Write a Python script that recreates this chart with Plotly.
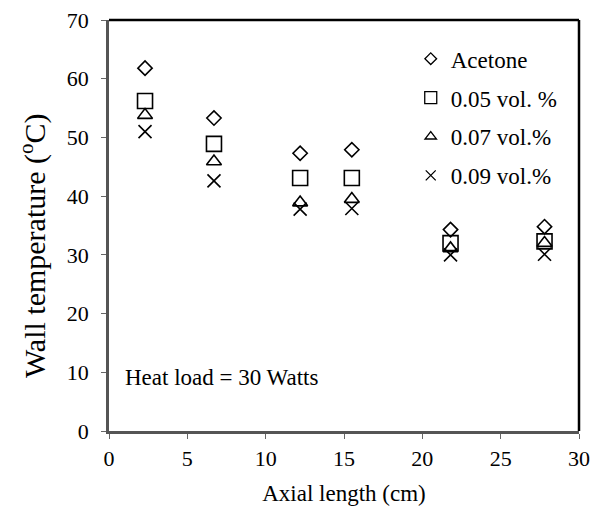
import plotly.graph_objects as go

# Axial positions of the thermocouples (cm)
axial_cm = [2.3, 6.7, 12.2, 15.5, 21.8, 27.8]

# Wall temperatures (deg C) for each working fluid
acetone = [61.8, 53.3, 47.3, 47.9, 34.3, 34.8]
vol_005 = [56.2, 48.9, 43.1, 43.1, 32.0, 32.3]
vol_007 = [53.8, 45.9, 38.9, 39.5, 31.1, 32.0]
vol_009 = [51.0, 42.6, 37.8, 37.9, 30.0, 30.1]

# name, values, symbol, plot marker size, legend marker size
series = [
    ("Acetone", acetone, "diamond-open", 11, 9),
    ("0.05 vol. %", vol_005, "square-open", 15, 12),
    ("0.07 vol.%", vol_007, "triangle-up-open", 13, 10),
    ("0.09 vol.%", vol_009, "x-thin-open", 13, 10),
]

FONT = "'Times New Roman', 'Liberation Serif', Tinos, 'DejaVu Serif', serif"

fig = go.Figure()
for i, (name, vals, sym, size, lsize) in enumerate(series):
    fig.add_trace(go.Scatter(
        x=axial_cm, y=vals, mode="markers", name=name,
        legendgroup=f"g{i}", showlegend=False,
        marker=dict(symbol=sym, size=size, color="black",
                    line=dict(color="black", width=1.6)),
    ))
    # compact legend key for the same series
    fig.add_trace(go.Scatter(
        x=[None], y=[None], mode="markers", name=name,
        legendgroup=f"g{i}", showlegend=True,
        marker=dict(symbol=sym, size=lsize, color="black",
                    line=dict(color="black", width=1.3)),
    ))

fig.add_annotation(
    x=0.03, y=0.131, xref="paper", yref="paper", xanchor="left", yanchor="middle",
    text="Heat load = 30 Watts", showarrow=False,
    font=dict(family=FONT, size=23, color="black"),
)

# y-axis title placed beside the axis
fig.add_annotation(
    x=-0.162, y=0.452, xref="paper", yref="paper", xanchor="center", yanchor="middle",
    text="Wall temperature (<sup>o</sup>C)", textangle=-90, showarrow=False,
    font=dict(family=FONT, size=30, color="black"),
)

# black frame on the top and right sides
fig.add_shape(type="line", xref="paper", yref="paper", x0=0, x1=1, y0=1, y1=1,
              line=dict(color="black", width=2.5))
fig.add_shape(type="line", xref="paper", yref="paper", x0=1, x1=1, y0=0, y1=1,
              line=dict(color="black", width=2.5))

axis_common = dict(
    showgrid=False, zeroline=False, showline=True, linecolor="#555555",
    linewidth=2.5, mirror=False, ticks="outside", ticklen=5, tickwidth=1,
    tickcolor="#666666", tickfont=dict(family=FONT, size=22, color="black"),
    automargin=False,
)

fig.update_layout(
    width=595, height=509,
    margin=dict(l=109, r=16, t=20, b=78),
    plot_bgcolor="white", paper_bgcolor="white",
    font=dict(family=FONT, color="black"),
    showlegend=True,
    legend=dict(
        x=0.642, y=0.958, xanchor="left", yanchor="top",
        font=dict(family=FONT, size=23, color="black"),
        bgcolor="rgba(0,0,0,0)", traceorder="grouped", tracegroupgap=6,
        itemwidth=30, itemsizing="trace",
    ),
    xaxis=dict(range=[0, 30], dtick=5, ticklabelstandoff=1,
               title=dict(text="Axial length (cm)", standoff=15,
                          font=dict(family=FONT, size=23, color="black")),
               **axis_common),
    yaxis=dict(range=[0, 70], dtick=10, ticklabelstandoff=8,
               **axis_common),
)

fig.write_html("out.html")
